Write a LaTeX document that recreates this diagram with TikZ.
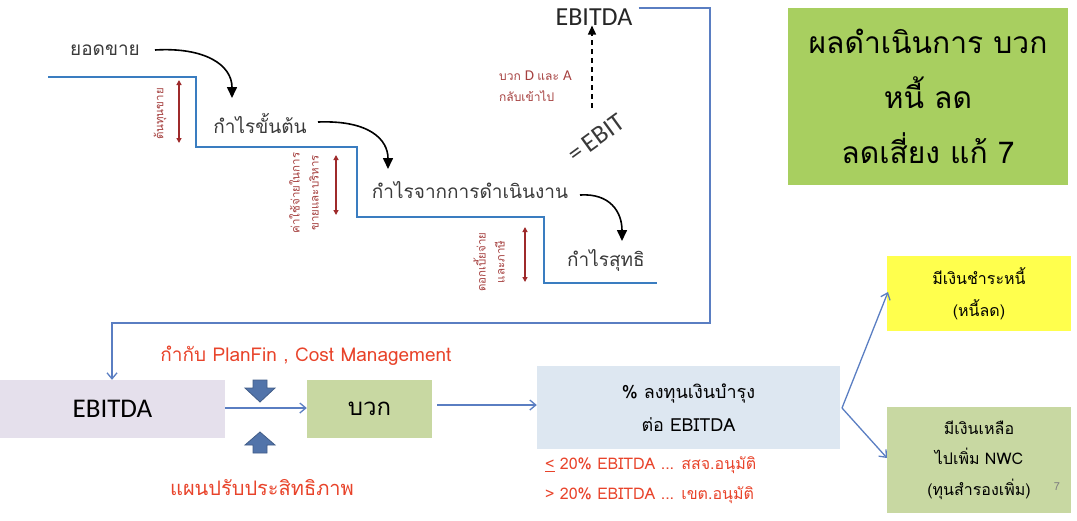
\documentclass[tikz,border=0pt]{standalone}
\usepackage{fontspec}
\setmainfont[Script=Thai]{Loma}
\newfontfamily\calfont{Carlito}
\usetikzlibrary{arrows.meta}
\definecolor{stairblue}{HTML}{3A7DC0}
\definecolor{linkblue}{HTML}{5A7EC2}
\definecolor{darkred}{HTML}{9E2A2B}
\definecolor{labred}{HTML}{A5403F}
\definecolor{textred}{HTML}{E8432A}
\definecolor{lav}{HTML}{E5E0EC}
\definecolor{olive}{HTML}{C8D8A2}
\definecolor{lblue}{HTML}{DDE7F1}
\definecolor{yel}{HTML}{FFFF4D}
\definecolor{topgreen}{HTML}{A8CF60}
\definecolor{blockblue}{HTML}{5274AA}
\definecolor{txtgray}{HTML}{3A3A3A}
\tikzset{
  stairtext/.style={text=txtgray, font=\fontsize{19}{22}\selectfont, inner sep=0pt},
  vlabel/.style={text=labred, font=\fontsize{11.5}{19}\selectfont, rotate=90, align=center, inner sep=0pt},
  redarrow/.style={darkred, line width=1.2pt, {Triangle[width=5pt,length=5pt]}-{Triangle[width=5pt,length=5pt]}},
  curvearrow/.style={black, line width=1.6pt, -{Triangle[width=10pt,length=11pt]}},
  link/.style={linkblue, line width=1.3pt, -{Straight Barb[width=10pt,length=6pt,line width=1.3pt]}},
  boxnode/.style={inner sep=0pt, align=center, text=black},
  blockarrow/.style={fill=blockblue, draw=blockblue!80!black, line width=0.8pt},
}
\begin{document}
\begin{tikzpicture}[x=1pt,y=1pt]
\useasboundingbox (0,0) rectangle (1077,-520);

% staircase
\draw[stairblue, line width=2.6pt] (48,-77) -- (196,-77) -- (196,-147) -- (357,-147) -- (357,-217) -- (544,-217) -- (544,-283) -- (657,-283);

% staircase texts
\node[stairtext] (sales) at (105,-50) {ยอดขาย};
\node[stairtext] (gross) at (260,-123) {กำไรขั้นต้น};
\node[stairtext] (oper) at (470,-190) {กำไรจากการดำเนินงาน};
\node[stairtext] (net) at (606,-260) {กำไรสุทธิ};

\coordinate (c1s) at (155,-50); \coordinate (c1e) at (232,-98);
\coordinate (c2s) at (318,-122); \coordinate (c2e) at (388,-169);
\coordinate (c3s) at (580,-195); \coordinate (c3e) at (622,-241);
\draw[curvearrow] (c1s) .. controls (205,-47) and (232,-65) .. (c1e);
\draw[curvearrow] (c2s) .. controls (370,-120) and (388,-140) .. (c2e);
\draw[curvearrow] (c3s) .. controls (610,-193) and (622,-212) .. (c3e);

% red double arrows and labels
\coordinate (r1a) at (179,-80); \coordinate (r1b) at (179,-143);
\coordinate (r2a) at (336,-155); \coordinate (r2b) at (336,-215);
\coordinate (r3a) at (525,-227); \coordinate (r3b) at (525,-282);
\draw[redarrow] (r1a) -- (r1b);
\draw[redarrow] (r2a) -- (r2b);
\draw[redarrow] (r3a) -- (r3b);
\node[vlabel] (l1) at (160,-114) {ต้นทุนขาย};
\node[vlabel] (l2) at (304,-193) {ค่าใช้จ่ายในการ\\ขายและบริหาร};
\node[vlabel] (l3) at (489,-262) {ดอกเบี้ยจ่าย\\และภาษี};

% EBIT / EBITDA
\node[text=txtgray, font=\calfont\fontsize{26}{30}\selectfont, rotate=36, inner sep=0pt] (ebit) at (596,-138) {=\hspace{5pt}EBIT};
\node[text=black!85, font=\calfont\fontsize{26}{30}\selectfont, inner sep=0pt] (ebitdatop) at (594,-17) {EBITDA};
\coordinate (dashs) at (592,-108);
\draw[black, line width=1.5pt, dash pattern=on 5pt off 4pt, -{Triangle[width=8pt,length=9pt]}] (dashs) -- (ebitdatop.south -| dashs) ;
\node[text=labred, font=\fontsize{12}{22}\selectfont, align=left, inner sep=0pt, anchor=west] (addback) at (499,-86) {บวก \calfont\fontsize{15}{22}\selectfont D \fontspec[Script=Thai]{Loma}\fontsize{12}{22}\selectfont และ \calfont\fontsize{15}{22}\selectfont A\\[-1pt]\fontspec[Script=Thai]{Loma}\fontsize{12}{22}\selectfont กลับเข้าไป};

% top-right box
\node[boxnode, fill=topgreen, minimum width=280, minimum height=177, font=\fontsize{30}{55}\selectfont] (result) at (928,-96.5) {ผลดำเนินการ บวก\\หนี้ ลด\\ลดเสี่ยง แก้ 7};

% bottom row
\node[boxnode, fill=lav, minimum width=225, minimum height=58, font=\calfont\fontsize{27}{30}\selectfont] (ebitdab) at (112.5,-409) {EBITDA};
\node[boxnode, fill=olive, minimum width=125, minimum height=58, font=\fontsize{24}{28}\selectfont] (plus) at (369.5,-409) {บวก};
\node[boxnode, fill=lblue, minimum width=303, minimum height=83, font=\fontsize{18}{33}\selectfont] (capex) at (688.5,-407.5) {\% ลงทุนเงินบำรุง\\ต่อ EBITDA};
\node[boxnode, fill=yel, minimum width=184, minimum height=75, font=\fontsize{16}{32}\selectfont] (debt) at (979,-293.5) {มีเงินชำระหนี้\\(หนี้ลด)};
\node[boxnode, fill=olive, minimum width=184, minimum height=106, font=\fontsize{16}{30.5}\selectfont] (nwc) at (979,-460) {มีเงินเหลือ\\ไปเพิ่ม NWC\\(ทุนสำรองเพิ่ม)};
\node[text=gray, font=\fontsize{11}{13}\selectfont, inner sep=0pt] (pgnum) at (1057,-487) {7};

% red texts
\node[text=textred, font=\fontsize{19}{22}\selectfont, inner sep=0pt] (planfin) at (306,-356) {กำกับ PlanFin , Cost Management};
\node[text=textred, font=\fontsize{20}{24}\selectfont, inner sep=0pt] (effplan) at (262,-488) {แผนปรับประสิทธิภาพ};
\node[text=textred, font=\fontsize{16}{30}\selectfont, inner sep=0pt, anchor=west, align=left] (rule) at (545,-480) {\underline{<} 20\% EBITDA ... สสจ.อนุมัติ\\> 20\% EBITDA ... เขต.อนุมัติ};

% block arrows
\fill[blockarrow] (253,-380) -- (267,-380) -- (267,-388) -- (275,-388) -- (260,-402) -- (245,-388) -- (253,-388) -- cycle;
\fill[blockarrow] (253,-453) -- (267,-453) -- (267,-445) -- (275,-445) -- (260,-432) -- (245,-445) -- (253,-445) -- cycle;

% connectors
\coordinate (k1) at (710,-8);
\coordinate (k2) at (710,-323);
\coordinate (k3) at (112,-323);
\draw[link] (ebitdatop.east) ++(6,9) -- (k1) -- (k2) -- (k3) -- (ebitdab.north -| k3);
\draw[link] (ebitdab.east |- 0,-408) -- (plus.west |- 0,-408);
\draw[link, shorten <=5pt] (plus.east |- 0,-405) -- (capex.west |- 0,-405);
\coordinate (fork) at (842,-408);
\draw[link] (fork) -- (888,-292);
\draw[link] (fork) -- (887,-458);
\end{tikzpicture}
\end{document}
